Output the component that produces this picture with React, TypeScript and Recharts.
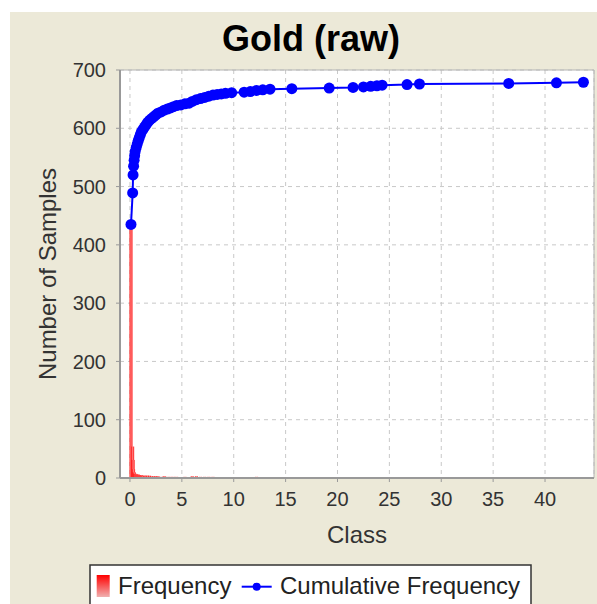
import React from 'react';
import { ComposedChart, Bar, Line, XAxis, YAxis, CartesianGrid, ReferenceArea } from 'recharts';

// class values (unique sample values) with their frequency and running total
const classes = [
  0.1, 0.26, 0.3, 0.35, 0.4, 0.45, 0.5, 0.6, 0.7, 0.8, 0.9, 1.0, 1.1, 1.25, 1.4, 1.55, 1.7, 1.9,
  2.1, 2.3, 2.5, 2.7, 3.0, 3.3, 3.6, 3.9, 4.2, 4.5, 4.9, 5.3, 5.7, 6.0, 6.4, 6.8, 7.2, 7.6, 8.0,
  8.4, 8.8, 9.2, 9.8, 11.0, 11.6, 12.2, 12.8, 13.5, 15.6, 19.2, 21.5, 22.5, 23.2, 23.8, 24.3,
  26.7, 27.9, 36.5, 41.1, 43.7,
];
const frequency = [
  435, 54, 31, 15, 10, 8, 7, 7, 6, 6, 5, 5, 5, 4, 4, 4, 4, 4,
  3, 3, 3, 3, 2, 3, 2, 2, 2, 2, 1, 2, 1, 3, 3, 2, 2, 2, 2,
  1, 1, 1, 1, 1, 1, 2, 1, 1, 1, 1, 1, 1, 1, 1, 1,
  1, 1, 1, 1, 1,
];
const cumulative = [
  435, 489, 520, 535, 545, 553, 560, 567, 573, 579, 584, 589, 594, 598, 602, 606, 610, 614,
  617, 620, 623, 626, 628, 631, 633, 635, 637, 639, 640, 642, 643, 646, 649, 651, 653, 655, 657,
  658, 659, 660, 661, 662, 663, 665, 666, 667, 668, 669, 670, 671, 672, 673, 674,
  675, 676, 677, 678, 679,
];
const xTicks = [0, 5, 10, 15, 20, 25, 30, 35, 40];
const yTicks = [0, 100, 200, 300, 400, 500, 600, 700];

const data = classes.map((c, i) => ({ cls: c, freq: frequency[i], cum: cumulative[i] }));

const FONT = '"Liberation Sans", Arial, Helvetica, sans-serif';
const X_DOMAIN: [number, number] = [-0.96, 44.72];

// recharts squeezes the bars to the tiny gap between class values, so keep them 3px wide
const FreqBar = (props: any) => {
  const { x, y, width, height } = props;
  if (height == null || isNaN(height)) return null;
  const cx = x + width / 2;
  return <rect x={cx - 1.5} y={y} width={3} height={Math.max(height, 0)} fill="url(#freqGrad)" />;
};

export default function App() {
  return (
    <div
      style={{
        position: 'absolute',
        left: 10,
        top: 12,
        width: 587,
        height: 592,
        overflow: 'hidden',
        background: '#ECE9D8',
        fontFamily: FONT,
      }}
    >
      <ComposedChart
        width={602}
        height={592}
        data={data}
        margin={{ top: 58, right: 18, left: 0, bottom: 0 }}
        style={{ fontFamily: FONT }}
      >
        <defs>
          <linearGradient id="freqGrad" x1="0" y1="0" x2="1" y2="0">
            <stop offset="0%" stopColor="#ff1010" />
            <stop offset="50%" stopColor="#ff8080" />
            <stop offset="100%" stopColor="#ff1010" />
          </linearGradient>
        </defs>
        <CartesianGrid fill="#ffffff" stroke="#c8c8c8" strokeDasharray="4 4" />
        <XAxis
          dataKey="cls"
          type="number"
          domain={X_DOMAIN}
          ticks={xTicks}
          allowDataOverflow
          height={126}
          tickSize={4}
          tickMargin={10}
          axisLine={{ stroke: '#999', strokeWidth: 2 }}
          tickLine={{ stroke: '#999' }}
          tick={{ fill: '#333', fontSize: 20 }}
          label={{ value: 'Class', position: 'insideTop', offset: 48, fill: '#333', fontSize: 24 }}
        />
        <YAxis
          type="number"
          domain={[0, 700]}
          ticks={yTicks}
          allowDataOverflow
          width={110}
          tickSize={4}
          tickMargin={10}
          axisLine={{ stroke: '#999', strokeWidth: 2 }}
          tickLine={{ stroke: '#999' }}
          tick={{ fill: '#333', fontSize: 20 }}
          label={{
            value: 'Number of Samples',
            angle: -90,
            position: 'insideLeft',
            offset: 37,
            fill: '#333',
            fontSize: 24,
            style: { textAnchor: 'middle' },
          }}
        />
        <ReferenceArea
          x1={X_DOMAIN[0]}
          x2={X_DOMAIN[1]}
          y1={0}
          y2={700}
          fill="none"
          stroke="#b4b4b4"
          ifOverflow="visible"
        />
        <Bar dataKey="freq" shape={FreqBar} fill="#ff2020" isAnimationActive={false} />
        <Line
          type="linear"
          dataKey="cum"
          stroke="#0000ff"
          strokeWidth={2}
          dot={{ r: 5.5, fill: '#0000ff', stroke: 'none' }}
          activeDot={false}
          isAnimationActive={false}
        />
      </ComposedChart>

      <svg
        width={602}
        height={592}
        style={{ position: 'absolute', left: 0, top: 0, pointerEvents: 'none', fontFamily: FONT }}
      >
        <defs>
          <linearGradient id="swatchGrad" x1="0" y1="0" x2="0" y2="1">
            <stop offset="0%" stopColor="#ff0000" />
            <stop offset="100%" stopColor="#f0b0b0" />
          </linearGradient>
        </defs>
        <text x={301} y={39} textAnchor="middle" fontSize={36} fontWeight="bold" fill="#000">
          Gold (raw)
        </text>
        <rect x={80} y={553} width={441} height={60} fill="#ffffff" stroke="#333" strokeWidth={1.5} />
        <rect x={86.7} y={563} width={13} height={22} fill="url(#swatchGrad)" />
        <text x={108} y={582} fontSize={24} fill="#222">
          Frequency
        </text>
        <line x1={231.7} x2={261.7} y1={574.7} y2={574.7} stroke="#0000ff" strokeWidth={2} />
        <circle cx={246.7} cy={574.7} r={4} fill="#0000ff" />
        <text x={270} y={582} fontSize={24} fill="#222">
          Cumulative Frequency
        </text>
      </svg>
    </div>
  );
}
